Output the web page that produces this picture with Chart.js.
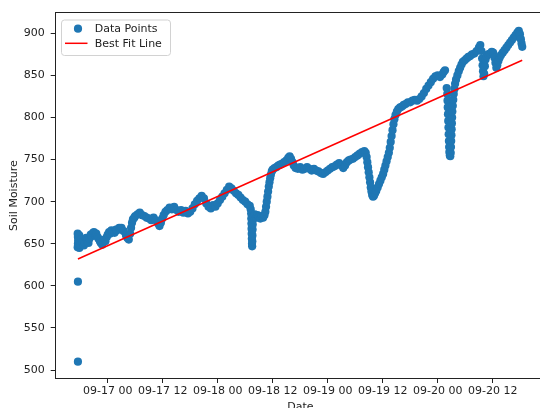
<!DOCTYPE html>
<html>
<head>
<meta charset="utf-8">
<script src="https://cdn.jsdelivr.net/npm/chart.js@4.4.1/dist/chart.umd.min.js"></script>
<style>
  html, body { margin: 0; padding: 0; background: #fff; }
  #wrap { width: 540px; height: 408px; overflow: hidden; position: relative; }
  canvas { display: block; }
</style>
</head>
<body>
<div id="wrap"><canvas id="c" width="552" height="416"></canvas></div>
<script>
// Sensor readings: hours since 09-16 00:00 and soil moisture value
const hours = [
  17.5, 17.5, 17.45, 17.5, 17.55, 17.5, 17.45, 17.8, 17.8, 18.0,
  18.3, 18.5, 18.8, 19.0, 19.3, 19.5, 19.8, 20.0, 20.3, 20.5,
  20.8, 21.0, 21.3, 21.5, 21.8, 22.0, 22.3, 22.5, 22.8, 23.0,
  23.3, 23.5, 23.8, 24.0, 24.3, 24.5, 24.8, 25.0, 25.5, 25.8,
  26.0, 26.5, 26.8, 27.0, 27.5, 28.0, 28.3, 28.6, 28.9, 29.1,
  29.3, 29.5, 29.8, 30.0, 30.5, 31.0, 31.5, 32.0, 32.5, 33.0,
  33.5, 34.0, 34.5, 35.0, 35.3, 35.6, 35.9, 36.2, 36.6, 37.0,
  37.5, 38.0, 38.5, 39.0, 39.5, 40.0, 40.5, 41.0, 41.5, 42.0,
  42.5, 43.0, 43.5, 44.0, 44.5, 45.0, 45.5, 46.0, 46.5, 47.0,
  47.5, 48.0, 48.5, 49.0, 49.5, 50.0, 50.5, 51.0, 51.5, 52.0,
  52.5, 53.0, 53.5, 54.0, 54.5, 55.0, 55.2, 55.3, 55.33, 55.36,
  55.39, 55.42, 55.45, 55.48, 55.52, 55.55, 55.58, 55.61, 55.64, 55.67,
  55.8, 56.1, 56.4, 56.7, 57.0, 57.3, 57.6, 57.9, 58.2, 58.4,
  58.55, 58.7, 58.85, 59.0, 59.15, 59.3, 59.45, 59.6, 59.8, 60.0,
  60.4, 60.8, 61.2, 61.6, 62.0, 62.5, 63.0, 63.4, 63.7, 64.0,
  64.3, 64.6, 65.0, 65.5, 66.0, 66.5, 67.0, 67.5, 68.0, 68.5,
  69.0, 69.5, 70.0, 70.5, 71.0, 71.5, 72.0, 72.5, 73.0, 73.5,
  74.0, 74.5, 75.0, 75.4, 75.8, 76.2, 76.6, 77.0, 77.5, 78.0,
  78.5, 79.0, 79.5, 80.0, 80.3, 80.5, 80.65, 80.8, 80.95, 81.1,
  81.25, 81.4, 81.55, 81.7, 81.9, 82.1, 82.35, 82.6, 82.9, 83.2,
  83.5, 83.8, 84.1, 84.35, 84.6, 84.85, 85.1, 85.35, 85.55, 85.75,
  85.95, 86.15, 86.35, 86.55, 86.8, 87.1, 87.4, 87.8, 88.2, 88.6,
  89.0, 89.5, 90.0, 90.5, 91.0, 91.5, 92.0, 92.5, 93.0, 93.5,
  94.0, 94.5, 95.0, 95.5, 96.0, 96.5, 97.0, 97.3, 97.6, 97.97,
  98.1, 98.15, 98.2, 98.25, 98.3, 98.35, 98.4, 98.45, 98.5, 98.55,
  98.65, 98.75, 98.85, 98.9, 98.95, 99.0, 99.05, 99.1, 99.15, 99.2,
  99.3, 99.4, 99.5, 99.65, 99.8, 100.0, 100.3, 100.6, 100.9, 101.2,
  101.5, 101.9, 102.3, 102.7, 103.1, 103.5, 104.0, 104.5, 105.0, 105.3,
  105.55, 105.7, 105.8, 105.9, 106.0, 106.15, 106.3, 106.45, 106.7, 107.0,
  107.4, 107.8, 108.1, 108.4, 108.6, 108.8, 109.0, 109.25, 109.5, 109.8,
  110.2, 110.6, 111.0, 111.4, 111.8, 112.2, 112.6, 113.0, 113.4, 113.7,
  113.95, 114.15, 114.3, 114.45
];
const moisture = [
  510, 605, 646, 650, 654, 658, 662, 645, 660, 649,
  656, 652, 648, 651, 657, 654, 651, 656, 661, 659,
  663, 664, 660, 662, 658, 656, 653, 651, 649, 652,
  655, 653, 658, 661, 664, 662, 666, 664, 663, 667,
  666, 669, 667, 669, 665, 660, 657, 655, 662, 669,
  675, 679, 681, 683, 685, 687, 684, 683, 681, 680,
  678, 681, 678, 674, 671, 675, 680, 684, 688, 690,
  693, 691, 694, 690, 688, 690, 687, 689, 686, 688,
  692, 697, 701, 704, 707, 704, 698, 694, 692, 696,
  694, 698, 702, 706, 710, 714, 718, 716, 713, 710,
  708, 705, 702, 700, 697, 695, 691, 686, 680, 674,
  668, 662, 656, 650, 647, 653, 660, 667, 673, 679,
  683, 685, 681, 684, 682, 680, 683, 681, 684, 688,
  694, 700, 706, 712, 718, 723, 728, 732, 736, 738,
  740, 741, 743, 744, 745, 747, 749, 752, 754, 751,
  747, 743, 740, 739, 741, 738, 739, 741, 739, 737,
  739, 737, 736, 734, 733, 735, 737, 739, 741, 742,
  744, 746, 743, 740, 743, 747, 749, 750, 751, 753,
  755, 757, 759, 760, 758, 753, 747, 741, 735, 729,
  723, 717, 712, 708, 706, 707, 710, 713, 717, 721,
  725, 729, 733, 738, 743, 748, 753, 758, 764, 771,
  778, 785, 792, 798, 803, 807, 810, 812, 813, 815,
  816, 818, 818, 820, 821, 820, 822, 825, 829, 834,
  838, 842, 846, 849, 850, 848, 851, 854, 856, 835,
  828, 820, 812, 804, 796, 788, 780, 772, 765, 759,
  755, 754, 758, 765, 772, 779, 786, 793, 800, 807,
  814, 821, 828, 834, 840, 845, 850, 855, 859, 863,
  866, 868, 870, 872, 873, 875, 876, 879, 883, 886,
  879, 870, 862, 855, 849, 852, 861, 869, 873, 875,
  876, 878, 877, 871, 865, 859, 862, 867, 871, 874,
  877, 880, 883, 886, 889, 892, 895, 898, 901, 903,
  899, 893, 888, 884
];

// Least-squares line, value at the first and the last reading
const fitEnds = [632, 868];

// Axis ranges and ticks
const xRange = [12.65, 119.42];
const yRange = [490, 924.5];
const tickHours = [24, 36, 48, 60, 72, 84, 96, 108];
const tickLabels = ['09-17 00', '09-17 12', '09-18 00', '09-18 12', '09-19 00', '09-19 12', '09-20 00', '09-20 12'];
const yTicks = [500, 550, 600, 650, 700, 750, 800, 850, 900];

const ink = '#222222';
const font = { family: "'DejaVu Sans', sans-serif", size: 11 };

// Full rectangular frame around the plotting area
const framePlugin = {
  id: 'frame',
  afterDraw(chart) {
    const { ctx, chartArea: a } = chart;
    ctx.save();
    ctx.strokeStyle = ink;
    ctx.lineWidth = 1;
    const l = Math.floor(a.left) + 0.5, t = Math.floor(a.top) + 0.5;
    const r = Math.floor(a.right) + 0.5, b = Math.floor(a.bottom) + 0.5;
    ctx.strokeRect(l, t, r - l, b - t);
    ctx.restore();
  }
};

// Legend drawn inside the upper-left corner of the plot
const insetLegend = {
  id: 'insetLegend',
  afterDraw(chart) {
    const { ctx, chartArea: a } = chart;
    const ds = chart.data.datasets;
    const x = a.left + 5.3, y = a.top + 6.8, w = 109, h = 35.5;
    ctx.save();
    ctx.beginPath();
    if (ctx.roundRect) ctx.roundRect(x + 0.5, y + 0.5, w, h, 3);
    else ctx.rect(x + 0.5, y + 0.5, w, h);
    ctx.fillStyle = 'rgba(255,255,255,0.8)';
    ctx.fill();
    ctx.strokeStyle = '#d2d2d2';
    ctx.lineWidth = 1;
    ctx.stroke();

    ctx.fillStyle = ds[0].backgroundColor;
    ctx.beginPath();
    ctx.arc(x + 17, y + 9.2, ds[0].pointRadius, 0, Math.PI * 2);
    ctx.fill();

    ctx.strokeStyle = ds[1].borderColor;
    ctx.lineWidth = ds[1].borderWidth;
    ctx.beginPath();
    ctx.moveTo(x + 4, y + 23.8);
    ctx.lineTo(x + 26.5, y + 23.8);
    ctx.stroke();

    ctx.fillStyle = ink;
    ctx.font = "11px 'DejaVu Sans', sans-serif";
    ctx.textBaseline = 'alphabetic';
    ctx.textAlign = 'left';
    ctx.fillText(ds[0].label, x + 33.7, y + 12);
    ctx.fillText(ds[1].label, x + 33.7, y + 27.7);
    ctx.restore();
  }
};

new Chart(document.getElementById('c'), {
  type: 'scatter',
  data: {
    datasets: [
      {
        type: 'scatter',
        label: 'Data Points',
        data: hours.map((h, i) => ({ x: h, y: moisture[i] })),
        backgroundColor: '#1f77b4',
        borderWidth: 0,
        pointRadius: 4.1,
        pointHoverRadius: 4.1,
        order: 2
      },
      {
        type: 'line',
        label: 'Best Fit Line',
        data: [
          { x: hours[0], y: fitEnds[0] },
          { x: hours[hours.length - 1], y: fitEnds[1] }
        ],
        borderColor: '#ff0000',
        borderWidth: 1.5,
        pointRadius: 0,
        fill: false,
        order: 1
      }
    ]
  },
  options: {
    responsive: false,
    animation: false,
    devicePixelRatio: 1,
    layout: { padding: { left: 0, top: 12.7, right: 7, bottom: 0 } },
    plugins: { legend: { display: false }, tooltip: { enabled: false } },
    scales: {
      x: {
        type: 'linear',
        position: 'bottom',
        min: xRange[0],
        max: xRange[1],
        afterBuildTicks: s => { s.ticks = tickHours.map(v => ({ value: v })); },
        afterFit: s => { s.height = 37.5; },
        ticks: {
          callback: v => tickLabels[tickHours.indexOf(v)],
          color: ink, font, autoSkip: false, maxRotation: 0, padding: 2
        },
        grid: { drawOnChartArea: false, drawTicks: true, tickLength: 4.5, tickColor: ink },
        border: { display: false },
        title: { display: true, text: 'Date', color: ink, font, padding: { top: 0, bottom: 2.4 } }
      },
      y: {
        type: 'linear',
        position: 'left',
        min: yRange[0],
        max: yRange[1],
        afterBuildTicks: s => { s.ticks = yTicks.map(v => ({ value: v })); },
        afterFit: s => { s.width = 55.7; },
        ticks: { color: ink, font, padding: 6 },
        grid: { drawOnChartArea: false, drawTicks: true, tickLength: 5, tickColor: ink },
        border: { display: false },
        title: { display: true, text: 'Soil Moisture', color: ink, font, padding: { top: 7.4, bottom: 0 } }
      }
    }
  },
  plugins: [framePlugin, insetLegend]
});
</script>
</body>
</html>
